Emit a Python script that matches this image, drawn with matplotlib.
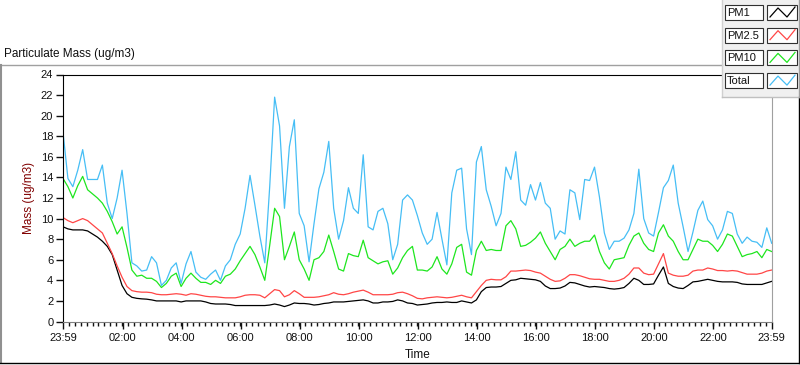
import numpy as np
import matplotlib.pyplot as plt
from matplotlib.patches import Rectangle

plt.rcParams['font.family'] = ['Liberation Sans', 'DejaVu Sans']

# one value every 10 minutes, from 23:59 to 23:59 (145 samples)
step_min = 10

total = [18.4, 13.9, 13.1, 14.7, 16.7, 13.8, 13.8, 13.8, 15.2, 11.5, 10.0, 12.0, 14.7, 10.5, 5.7, 5.4, 4.9, 5.0, 6.3, 5.7,
         3.5, 4.0, 5.2, 5.7, 3.7, 5.6, 6.8, 4.8, 4.3,
         4.1, 4.6, 5.0, 4.0, 5.4, 6.0, 7.5, 8.5, 11.0, 14.2, 11.3, 8.3, 5.7, 13.1, 21.8, 19.0, 11.0, 17.0, 19.6, 10.5,
         9.3, 5.8, 9.5, 12.9, 14.5, 17.5, 11.0, 8.0, 9.8,
         13.0, 11.0, 10.5, 16.2, 9.2, 8.9, 10.7, 11.0, 9.5, 6.0, 7.5, 11.8, 12.3, 11.8, 10.3, 8.6, 7.5, 8.0, 10.6, 8.0,
         5.5, 12.5, 14.7, 14.9, 9.0, 6.5, 15.5, 17.0,
         12.8, 11.2, 9.3, 10.5, 15.0, 13.8, 16.5, 11.8, 11.3, 13.3, 11.8, 13.5, 11.5, 11.0, 8.0, 8.8, 8.5, 12.8, 12.5,
         9.9, 13.8, 13.7, 15.0, 12.1, 8.6, 7.0, 7.8, 7.8, 8.1,
         8.9, 10.5, 14.8, 10.0, 8.6, 8.3, 10.6, 13.0, 13.7, 15.2, 11.5, 9.2, 6.8, 8.7, 10.8, 11.7, 9.9, 9.3, 8.0, 8.9,
         10.7, 10.5, 8.5, 7.6, 8.2, 7.8, 7.7, 7.2, 9.1, 7.6]

pm10 = [13.9, 13.1, 12.0, 13.2, 14.1, 12.8, 12.4, 12.0, 11.5, 10.7, 9.7, 8.5, 9.2, 7.2, 5.0, 4.4, 4.5, 4.2, 4.2, 3.9,
        3.3, 3.7, 4.4, 4.7, 3.4, 4.2, 4.7, 4.2, 3.8,
        3.8, 3.6, 4.0, 3.7, 4.4, 4.6, 5.1, 5.9, 6.6, 7.3, 6.5, 5.3, 4.0, 7.4, 11.0, 10.2, 6.0, 7.3, 8.7, 6.0,
        5.1, 4.0, 6.0, 6.2, 6.8, 8.4, 6.8, 5.1, 4.9,
        6.6, 6.4, 6.3, 7.9, 6.2, 5.9, 5.6, 5.8, 5.9, 4.6, 5.2, 6.2, 6.9, 7.3, 5.0, 5.0, 4.9, 5.3, 6.3, 5.1,
        4.6, 5.6, 7.2, 7.5, 4.8, 4.5, 6.9, 7.8,
        6.9, 7.0, 6.9, 6.9, 9.3, 9.8, 9.0, 7.3, 7.4, 7.7, 8.1, 8.7, 7.6, 6.8, 6.0, 7.0, 7.3, 8.0, 7.3,
        7.6, 7.8, 7.8, 8.4, 6.8, 5.7, 5.1, 6.0, 6.1, 6.2,
        7.4, 8.3, 8.6, 7.6, 7.0, 6.8, 8.6, 9.4, 8.3, 7.8, 6.8, 6.0, 6.0, 7.0, 8.0, 7.8, 7.8, 7.4, 6.8, 7.5,
        8.5, 8.3, 7.3, 6.3, 6.5, 6.6, 6.8, 6.2, 7.0, 6.8]

pm25 = [10.1, 9.8, 9.6, 9.8, 10.0, 9.8, 9.4, 9.0, 8.6, 7.6, 6.6, 5.4, 4.3, 3.4, 3.0, 2.9, 2.85, 2.85, 2.8, 2.65,
        2.6, 2.6, 2.65, 2.7, 2.65, 2.55, 2.7, 2.65, 2.55,
        2.45, 2.4, 2.4, 2.35, 2.3, 2.3, 2.3, 2.4, 2.55, 2.6, 2.6, 2.55, 2.3, 2.7, 3.1, 3.0, 2.4, 2.6, 3.0, 2.7,
        2.35, 2.35, 2.35, 2.4, 2.5, 2.6, 2.8, 2.65, 2.6,
        2.7, 2.85, 2.95, 3.05, 2.85, 2.6, 2.6, 2.6, 2.6, 2.65, 2.8, 2.85, 2.7, 2.5, 2.25, 2.2, 2.3, 2.35, 2.4, 2.35,
        2.3, 2.35, 2.45, 2.55, 2.4, 2.3, 2.9, 3.5,
        4.0, 4.1, 4.05, 4.05, 4.35, 4.9, 4.9, 4.95, 5.0, 4.95, 4.8, 4.7, 4.4, 4.1, 3.9, 3.95, 4.2, 4.55, 4.55,
        4.45, 4.3, 4.15, 4.1, 4.1, 4.0, 3.9, 3.9, 4.0, 4.2,
        4.6, 5.2, 5.2, 4.7, 4.55, 4.6, 5.6, 6.6, 4.7, 4.5, 4.4, 4.4, 4.5, 4.9, 5.0, 5.0, 5.2, 5.1, 4.95, 4.95,
        4.9, 4.95, 4.9, 4.75, 4.6, 4.6, 4.6, 4.7, 4.9, 5.0]

pm1 = [9.2, 9.0, 8.9, 8.9, 8.9, 8.8, 8.5, 8.2, 7.8, 7.3, 6.5, 5.0, 3.5, 2.7, 2.35, 2.25, 2.2, 2.17, 2.1, 2.0,
       2.0, 2.0, 2.0, 2.0, 1.9, 2.0, 2.0, 2.0, 2.0,
       1.9, 1.75, 1.7, 1.7, 1.7, 1.65, 1.55, 1.55, 1.55, 1.55, 1.55, 1.55, 1.55, 1.6, 1.7, 1.6, 1.45, 1.6, 1.8, 1.75,
       1.75, 1.7, 1.6, 1.65, 1.75, 1.8, 1.9, 1.9, 1.9,
       1.95, 2.0, 2.05, 2.1, 2.0, 1.8, 1.8, 1.9, 1.9, 1.95, 2.1, 2.0, 1.8, 1.75, 1.6, 1.65, 1.7, 1.8, 1.85, 1.85,
       1.9, 1.85, 1.85, 2.0, 1.9, 1.8, 2.1, 2.9,
       3.3, 3.35, 3.35, 3.4, 3.7, 4.0, 4.05, 4.2, 4.15, 4.1, 4.05, 3.9, 3.45, 3.2, 3.2, 3.25, 3.45, 3.8, 3.75,
       3.6, 3.45, 3.35, 3.4, 3.35, 3.3, 3.2, 3.15, 3.2, 3.3,
       3.7, 4.2, 4.0, 3.6, 3.6, 3.65, 4.5, 5.3, 3.7, 3.4, 3.25, 3.2, 3.5, 3.85, 3.9, 4.0, 4.1, 4.0, 3.9, 3.85,
       3.85, 3.85, 3.8, 3.65, 3.6, 3.6, 3.6, 3.6, 3.75, 3.9]

names = ['PM1', 'PM2.5', 'PM10', 'Total']
colors = ['#000000', '#ff4646', '#1ee61e', '#46bef5']

tick_pos = [0] + [h + 1 / 60 for h in range(2, 24, 2)] + [24]
tick_lab = ['23:59'] + ['%02d:00' % h for h in range(2, 24, 2)] + ['23:59']

hours = np.arange(len(total)) * step_min / 60

fig = plt.figure(figsize=(8, 3.65), dpi=100)
ax = fig.add_axes([63 / 800, 43.5 / 365, 708.7 / 800, 247 / 365])

for series, c in zip([pm1, pm25, pm10, total], colors):
    ax.plot(hours, series, color=c, linewidth=0.9)

ax.set_xlim(0, 24)
ax.set_ylim(0, 24)
ax.set_yticks(range(0, 25, 2))
ax.set_xticks(tick_pos)
ax.set_xticklabels(tick_lab)
ax.set_xticks(np.arange(0, 24.01, 0.2), minor=True)

ax.tick_params(axis='both', which='major', direction='out', length=5, width=1,
               labelsize=8, colors='#101010')
ax.tick_params(axis='x', which='minor', direction='out', length=3, width=1, color='#101010')
ax.tick_params(axis='x', pad=3)
ax.tick_params(axis='y', pad=2)

ax.spines['top'].set_color('black')
ax.spines['left'].set_color('black')
ax.spines['right'].set_color('#a0a0a0')
ax.spines['bottom'].set_color('#808080')

ax.set_xlabel('Time', fontsize=8.5, color='#101010')
ax.xaxis.set_label_coords(0.5, -0.112)
ax.set_ylabel('Mass (ug/m3)', fontsize=8.5, color='#800000')
ax.yaxis.set_label_coords(-0.040, 0.5)

# panel decorations and legend, in pixel coordinates
deco = fig.add_axes([0, 0, 1, 1], zorder=5)
deco.set_xlim(0, 800)
deco.set_ylim(365, 0)
deco.axis('off')
deco.patch.set_alpha(0)

deco.text(4, 54, 'Particulate Mass (ug/m3)', fontsize=8.5, va='center', ha='left', color='#101010')
deco.plot([0, 722], [65, 65], color='#a0a0a0', lw=1)
deco.plot([1, 1], [65, 362], color='#909090', lw=1.5)
deco.plot([0, 799], [362.5, 362.5], color='#000000', lw=1)
deco.plot([798.5, 798.5], [97, 363], color='#000000', lw=1)

deco.add_patch(Rectangle((722, 0), 78, 97, facecolor='#f0f0f0', edgecolor='none'))
deco.plot([722, 722], [0, 97], color='#d0d0d0', lw=1)
deco.plot([722, 799], [97, 97], color='#c0c0c0', lw=1)
deco.plot([798.5, 798.5], [0, 97], color='#a0a0a0', lw=1)
for i, (name, c) in enumerate(zip(names, colors)):
    y0 = 5 + 22.7 * i
    deco.add_patch(Rectangle((725, y0), 38, 15, facecolor='white', edgecolor='#303030', lw=0.8))
    deco.text(727, y0 + 8, name, fontsize=8, va='center', ha='left', color='#101010')
    deco.add_patch(Rectangle((767, y0), 30, 15, facecolor='white', edgecolor='#303030', lw=0.8))
    deco.plot([770, 778, 787, 795], [y0 + 12, y0 + 3, y0 + 12, y0 + 2], color=c, lw=0.9)

fig.savefig('out.png', dpi=100)
